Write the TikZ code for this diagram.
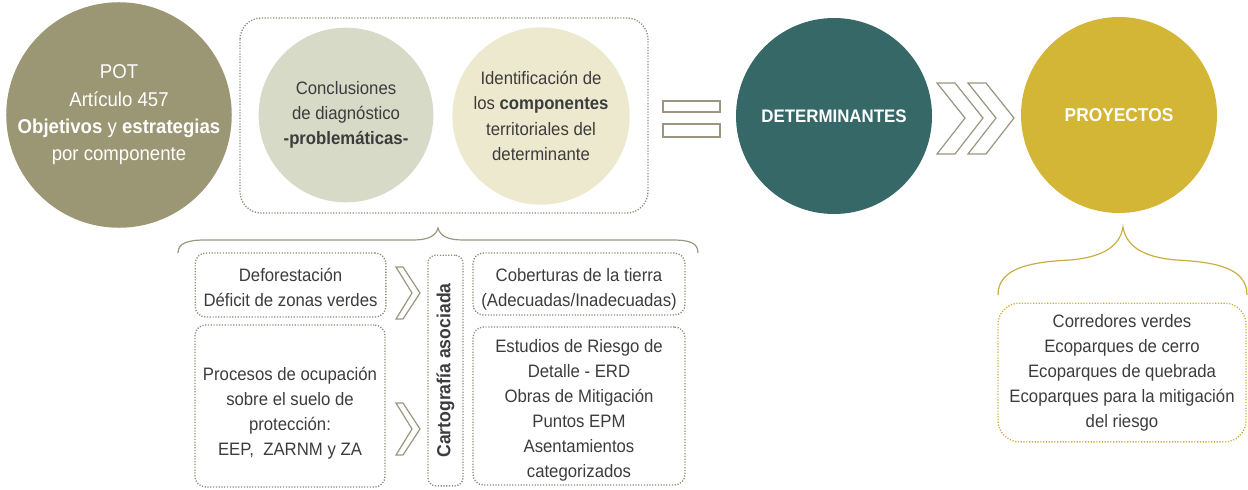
\documentclass[tikz,border=0pt]{standalone}
\usepackage{fontspec}
\setmainfont{Liberation Sans}[FakeStretch=0.93]
\definecolor{potcol}{HTML}{9B9673}
\definecolor{diagcol}{HTML}{D6DAC7}
\definecolor{compcol}{HTML}{EDE9CE}
\definecolor{detcol}{HTML}{376868}
\definecolor{proycol}{HTML}{D4B636}
\definecolor{txtcol}{HTML}{3C3C3C}
\definecolor{dotcol}{HTML}{8C8A78}
\definecolor{outcol}{HTML}{9A9680}
\definecolor{goldcol}{HTML}{C9AE45}
\begin{document}
\begin{tikzpicture}[x=0.75pt,y=-0.75pt,
  txt/.style={align=center,text=txtcol,font=\fontsize{13.5}{18.75}\selectfont},
  bub/.style={circle,inner sep=0pt,align=center,font=\fontsize{13.5}{19}\selectfont},
  dotbox/.style={draw=dotcol,line width=1pt,dash pattern=on 0.9pt off 1.2pt,rounded corners=8pt},
  outl/.style={draw=outcol,line width=0.9pt,fill=white},
  brace/.style={draw=outcol,line width=0.9pt}]
\useasboundingbox (0,0) rectangle (1248,489);
% top row
\node[bub,fill=potcol,minimum size=162pt,text=white,font=\fontsize{15}{20.5}\selectfont] (pot) at (119,115)
  {POT\\Artículo 457\\\textbf{Objetivos} y \textbf{estrategias}\\por componente};
\draw[dotbox,rounded corners=16pt] (240,18) rectangle (648,213);
\node[bub,fill=diagcol,minimum size=131pt,text=txtcol] (diag) at (346,115)
  {Conclusiones\\de diagnóstico\\\textbf{-problemáticas-}};
\node[bub,fill=compcol,minimum size=133pt,text=txtcol] (comp) at (541,116)
  {Identificación de\\los \textbf{componentes}\\territoriales del\\determinante};
\draw[outl] (663,101) rectangle (720,112) (663,124) rectangle (720,137);
\node[bub,fill=detcol,minimum size=147pt,text=white,font=\bfseries\fontsize{13.6}{15}\selectfont] (det) at (834,116) {DETERMINANTES};
\foreach \x in {937,968}
  \draw[outl] (\x,83) -- ++(18,0) -- ++(28,35) -- ++(-28,36) -- ++(-18,0) -- ++(28,-36) -- cycle;
\node[bub,fill=proycol,minimum size=147pt,text=white,font=\bfseries\fontsize{14}{15}\selectfont] (proy) at (1119,115) {PROYECTOS};
% lower left
\draw[brace] (178,253) .. controls (178,243) and (188,240) .. (205,240) -- (413,240)
  .. controls (428,240) and (436,236) .. (438,228) .. controls (440,236) and (448,240) .. (463,240)
  -- (672,240) .. controls (690,240) and (698,243) .. (698,253);
\node[dotbox,minimum width=143pt,minimum height=48pt] (defo) at (290.5,285) {};
\node[txt] (defotxt) at (290.5,287.5) {Deforestación\\Déficit de zonas verdes};
\node[dotbox,minimum width=142.5pt,minimum height=121.5pt] (proc) at (290,406) {};
\node[txt] (proctxt) at (290,413.5) {Procesos de ocupación\\sobre el suelo de\\protección:\\EEP,\ \ ZARNM y ZA};
\foreach \y in {267,403}
  \draw[outl] (396,\y) -- ++(7,0) -- ++(17,26) -- ++(-17,26) -- ++(-7,0) -- ++(16,-26) -- cycle;
\node[dotbox,rounded corners=6pt,minimum width=26.25pt,minimum height=173pt] (carto) at (445.5,370.5) {};
\node[rotate=90,text=txtcol,font=\bfseries\fontsize{14.2}{16}\selectfont] (cartotxt) at (carto) {Cartografía asociada};
\node[dotbox,minimum width=159pt,minimum height=46.5pt] (cob) at (579,284) {};
\node[txt] (cobtxt) at (579,289.5) {Coberturas de la tierra\\(Adecuadas/Inadecuadas)};
\node[dotbox,minimum width=159pt,minimum height=118.5pt] (erd) at (579,406) {};
\node[txt] (erdtxt) at (579,410.5) {Estudios de Riesgo de\\Detalle - ERD\\Obras de Mitigación\\Puntos EPM\\Asentamientos\\categorizados};
% lower right
\draw[brace,draw=goldcol] (998,295) .. controls (998,268) and (1030,262) .. (1070,260)
  .. controls (1105,257) and (1120,245) .. (1123,227) .. controls (1126,245) and (1141,257) .. (1176,260)
  .. controls (1216,262) and (1247,268) .. (1247,295);
\node[dotbox,draw=goldcol,rounded corners=16pt,minimum width=186pt,minimum height=104pt] (obras) at (1122,372.5) {};
\node[txt] (obrastxt) at (1122,373) {Corredores verdes\\Ecoparques de cerro\\Ecoparques de quebrada\\Ecoparques para la mitigación\\del riesgo};
\end{tikzpicture}
\end{document}
